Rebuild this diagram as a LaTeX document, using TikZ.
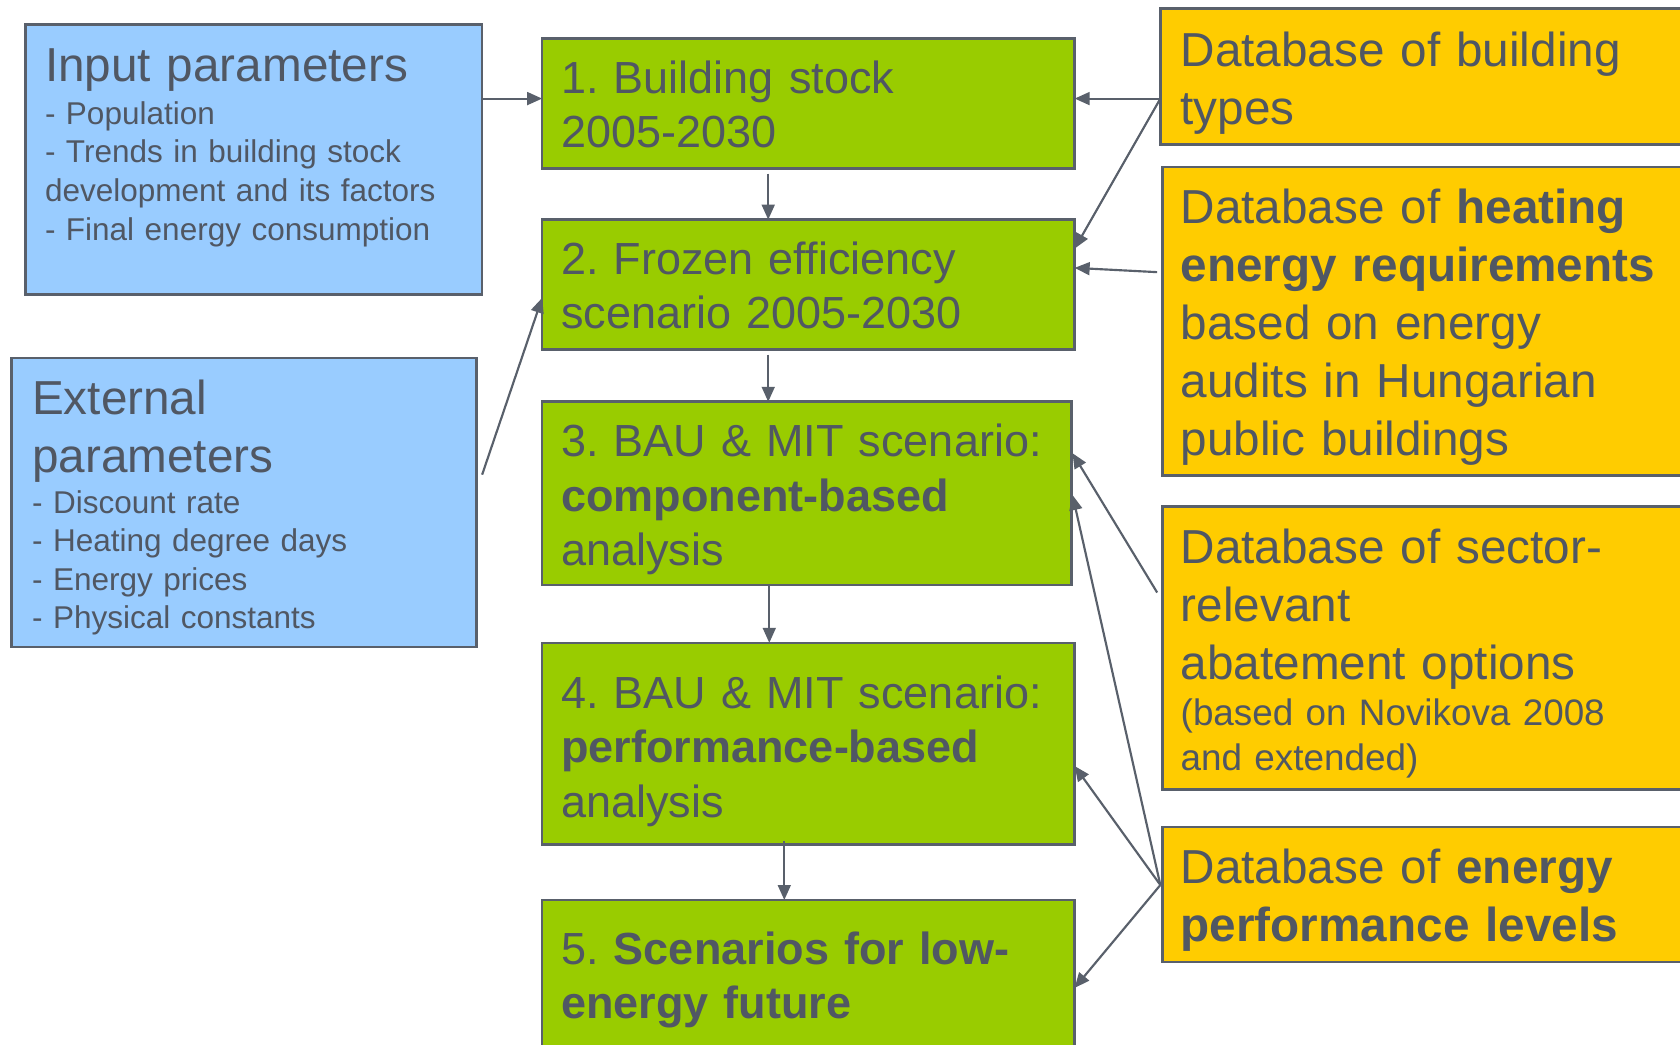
\documentclass[tikz,border=0pt]{standalone}
\usepackage{fontspec}
\setmainfont{Liberation Sans}
\usetikzlibrary{arrows.meta,calc}
\definecolor{bluebox}{RGB}{153,204,255}
\definecolor{greenbox}{RGB}{153,204,0}
\definecolor{yellowbox}{RGB}{255,204,0}
\definecolor{edge}{RGB}{89,96,107}
\definecolor{ink}{RGB}{80,87,99}
\newcommand{\fl}{\rule{0pt}{1em}}
\frenchspacing
\begin{document}
\begin{tikzpicture}[x=1pt,y=-1pt,
  box/.style={draw=edge, line width=2.5pt, rectangle, inner sep=0pt, outer sep=0pt, anchor=north west},
  bluefill/.style={box, fill=bluebox},
  greenfill/.style={box, fill=greenbox},
  yellowfill/.style={box, fill=yellowbox},
  txt/.style={anchor=north west, inner sep=0pt, outer sep=0pt, align=left, text=ink, text width=#1},
  gfont/.style={font=\fontsize{42}{51}\selectfont},
  yfont/.style={font=\fontsize{44.5}{54}\selectfont},
  hfont/.style={font=\fontsize{44.5}{54}\selectfont},
  sfont/.style={font=\fontsize{29.4}{36}\selectfont},
  nfont/.style={font=\fontsize{34.4}{42}\selectfont},
  conn/.style={draw=edge, line width=2pt, -{Triangle[length=14pt,width=12pt]}}
]
\useasboundingbox (0,0) rectangle (1568,975);
\clip (0,0) rectangle (1568,975);
\fill[white] (0,0) rectangle (1568,975);

% left boxes
\node[bluefill, minimum width=426pt, minimum height=252pt] (inp) at (24,23) {};
\node[bluefill, minimum width=434pt, minimum height=270pt] (ext) at (11,334) {};
% green boxes
\node[greenfill, minimum width=497pt, minimum height=121pt] (b1) at (506,36) {};
\node[greenfill, minimum width=497pt, minimum height=121pt] (b2) at (506,205) {};
\node[greenfill, minimum width=494pt, minimum height=171pt] (b3) at (506,375) {};
\node[greenfill, minimum width=497pt, minimum height=188pt] (b4) at (506,600) {};
\node[greenfill, minimum width=497pt, minimum height=160pt] (b5) at (506,840) {};
% yellow boxes
\node[yellowfill, minimum width=520pt, minimum height=127pt] (types) at (1083,8) {};
\node[yellowfill, minimum width=520pt, minimum height=288pt] (heat) at (1085,156) {};
\node[yellowfill, minimum width=520pt, minimum height=264pt] (sector) at (1085,473) {};
\node[yellowfill, minimum width=520pt, minimum height=126pt] (energy) at (1085,772) {};

% texts
\node[txt=420pt, hfont] (inpH) at (42,31.5) {\fl Input parameters};
\node[txt=420pt, sfont] (inpL) at (42,86.6) {\fl - Population\\- Trends in building stock\\development and its factors\\- Final energy consumption};
\node[txt=420pt, hfont] (extH) at (30,342.5) {\fl External\\parameters};
\node[txt=420pt, sfont] (extL) at (30,449.6) {\fl - Discount rate\\- Heating degree days\\- Energy prices\\- Physical constants};

\node[txt=470pt, gfont] (t1) at (524,45) {\fl 1. Building stock\\2005-2030};
\node[txt=470pt, gfont] (t2) at (524,214) {\fl 2. Frozen efficiency\\scenario 2005-2030};
\node[txt=470pt, gfont] (t3) at (524,384) {\fl 3. BAU \& MIT scenario:\\\textbf{component-based}\\analysis};
\node[txt=470pt, gfont] (t4) at (524,619) {\fl 4. BAU \& MIT scenario:\\\textbf{performance-based}\\analysis};
\node[txt=470pt, gfont] (t5) at (524,858) {\fl 5. \textbf{Scenarios for low-}\\\textbf{energy future}};

\node[txt=460pt, yfont] (tt) at (1102,17.5) {\fl Database of building\\types};
\node[txt=460pt, yfont] (th) at (1102,164.5) {\fl Database of \textbf{heating}\\\textbf{energy requirements}\\based on energy\\audits in Hungarian\\public buildings};
\node[txt=460pt, yfont] (ts) at (1102,481.5) {\fl Database of sector-\\relevant\\abatement options};
\node[txt=460pt, nfont] (tn) at (1102,642.6) {\fl (based on Novikova 2008\\and extended)};
\node[txt=460pt, yfont] (te) at (1102,780.5) {\fl Database of \textbf{energy}\\\textbf{performance levels}};

% connectors
\draw[conn] ($(inp.north east)+(0,69)$) -- ($(b1.north west)+(0,56)$);
\draw[conn] ($(b1.south west)+(211,5)$) -- ($(b2.north west)+(211,0)$);
\draw[conn] ($(b2.south west)+(211,5)$) -- ($(b3.north west)+(211,0)$);
\draw[conn] ($(b3.south west)+(212,0)$) -- ($(b4.north west)+(212,0)$);
\draw[conn] ($(b4.south west)+(226,-3)$) -- ($(b5.north west)+(226,0)$);
\draw[conn] ($(ext.north east)+(5,109)$) -- ($(b2.north west)+(0,73)$);

\coordinate (tj) at ($(types.north west)+(0,84)$);
\draw[conn] (tj) -- ($(b1.north east)+(0,56)$);
\draw[conn] (tj) -- ($(b2.north east)+(0,27)$);
\draw[conn] ($(heat.north west)+(-5,98)$) -- ($(b2.north east)+(0,45)$);
\draw[conn] ($(sector.north west)+(-5,80)$) -- ($(b3.north east)+(1,48)$);
\coordinate (ej) at ($(energy.north west)+(-2,54)$);
\draw[conn] (ej) -- ($(b3.north east)+(1,87)$);
\draw[conn] (ej) -- ($(b4.north east)+(0,115)$);
\draw[conn] (ej) -- ($(b5.north east)+(0,82)$);
\end{tikzpicture}
\end{document}
